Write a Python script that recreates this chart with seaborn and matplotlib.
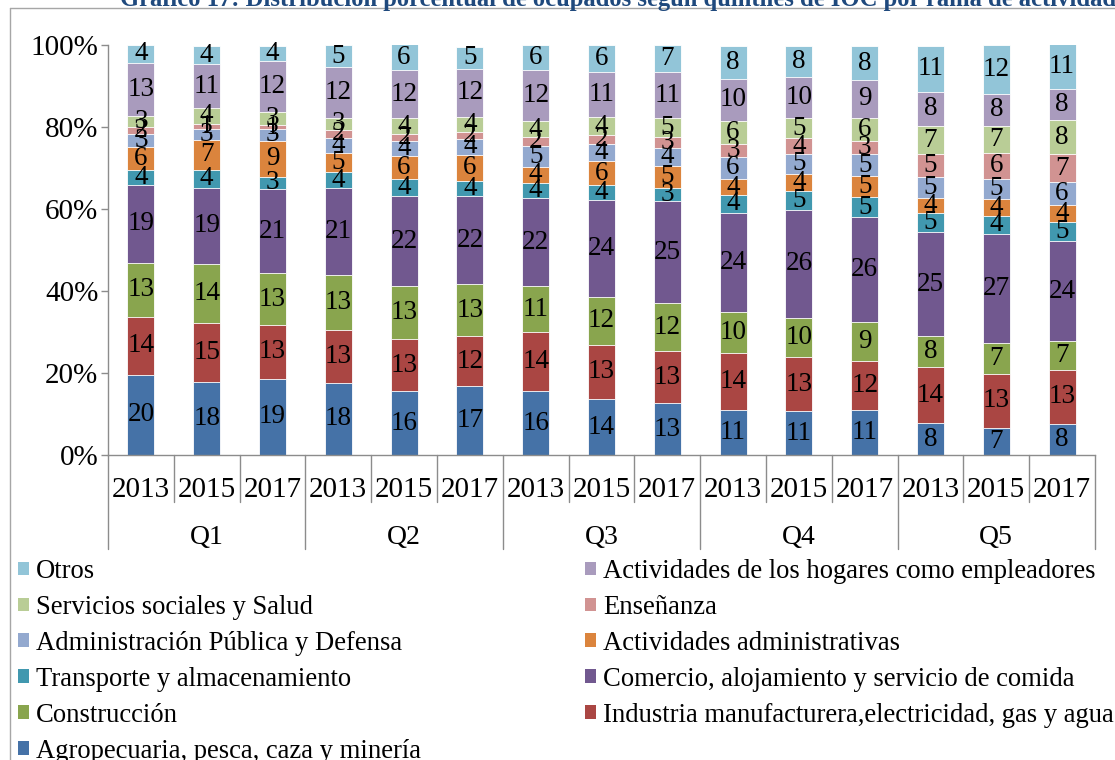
import pandas as pd
import matplotlib
matplotlib.use("Agg")
import matplotlib.pyplot as plt
import matplotlib.transforms as mtransforms
from matplotlib.patches import Patch
from matplotlib.lines import Line2D
from matplotlib.ticker import FuncFormatter
import seaborn as sns

# Data (percent of employed people by branch, per quintile and year)
quintiles = ["Q1", "Q2", "Q3", "Q4", "Q5"]
years = ["2013", "2015", "2017"]

agro = [19.6, 17.7, 18.6, 17.6, 15.6, 16.8, 15.6, 13.6, 12.6, 11.0, 10.7, 11.0, 7.7, 6.6, 7.6]
industria = [14.1, 14.6, 13.1, 12.9, 12.6, 12.2, 14.4, 13.3, 12.7, 13.9, 13.2, 12.0, 13.7, 13.2, 13.1]
construccion = [13.1, 14.3, 12.6, 13.4, 12.9, 12.6, 11.1, 11.7, 11.8, 10.0, 9.6, 9.4, 7.6, 7.4, 7.1]
comercio = [19.1, 18.6, 20.6, 21.2, 22.1, 21.6, 21.6, 23.6, 24.8, 24.2, 26.3, 25.6, 25.3, 26.7, 24.4]
transporte = [3.6, 4.4, 2.9, 3.9, 4.1, 3.6, 3.6, 3.6, 3.3, 4.3, 4.6, 4.9, 4.7, 4.4, 4.6]
act_admin = [5.6, 7.2, 8.8, 4.6, 5.6, 6.4, 4.0, 5.9, 5.4, 3.8, 4.1, 5.1, 3.6, 4.1, 4.1]
adm_publica = [3.2, 2.6, 2.9, 3.8, 3.8, 3.9, 5.1, 4.1, 4.4, 5.6, 5.0, 5.3, 5.3, 5.0, 5.6]
ensenanza = [1.6, 1.4, 0.9, 1.9, 1.6, 1.6, 2.2, 2.2, 2.6, 3.1, 3.7, 3.2, 5.4, 6.2, 6.8]
servicios = [2.9, 3.8, 3.3, 3.0, 3.8, 3.7, 3.8, 4.4, 4.7, 5.6, 5.0, 5.8, 7.0, 6.7, 8.3]
hogares = [12.9, 10.7, 12.3, 12.3, 11.8, 11.8, 12.4, 11.1, 11.0, 10.3, 9.9, 9.1, 8.3, 7.8, 7.6]
otros = [4.4, 4.4, 3.8, 5.3, 6.3, 5.4, 6.1, 6.4, 6.7, 8.0, 7.7, 8.4, 11.2, 11.8, 11.0]

# bottom to top
series_names = [
    "Agropecuaria, pesca, caza y minería",
    "Industria manufacturera,electricidad, gas y agua",
    "Construcción",
    "Comercio, alojamiento y servicio de comida",
    "Transporte y almacenamiento",
    "Actividades administrativas",
    "Administración Pública y Defensa",
    "Enseñanza",
    "Servicios sociales y Salud",
    "Actividades de los hogares como empleadores",
    "Otros",
]
series_values = [agro, industria, construccion, comercio, transporte, act_admin,
                 adm_publica, ensenanza, servicios, hogares, otros]
colors = ["#4572A7", "#AA4643", "#89A54E", "#71588F", "#4198AF", "#DB843D",
          "#93A9CF", "#D19392", "#B9CD96", "#A99BBD", "#92C5D8"]

title = "Gráfico 17: Distribución porcentual de ocupados según quintiles de IOC por rama de actividad"

cats = [f"{q} {y}" for q in quintiles for y in years]
rows = []
for name, vals in zip(series_names, series_values):
    for cat, v in zip(cats, vals):
        rows.append({"cat": cat, "serie": name, "valor": v})
df = pd.DataFrame(rows)
df["acum"] = df.groupby("cat")["valor"].cumsum()

sns.set_theme(style="white")
plt.rcParams["font.family"] = ["Liberation Serif", "DejaVu Serif"]
plt.rcParams["text.color"] = "black"

W, H = 1115, 760
fig, ax = plt.subplots(figsize=(W / 100, H / 100), dpi=100)
fig.subplots_adjust(left=108 / W, right=1095 / W, top=1 - 45 / H, bottom=1 - 455 / H)

gray = "#8C8C8C"
fs = 19.5
fs_axis = 21
fs_leg = 19.2

# stacked bars: draw cumulative totals from the top series down
for name, color in reversed(list(zip(series_names, colors))):
    sub = df[df["serie"] == name]
    sns.barplot(data=sub, x="cat", y="acum", order=cats, color=color, saturation=1,
                width=0.41, errorbar=None, edgecolor="white", linewidth=0.6, ax=ax)

for _, r in df.iterrows():
    x = cats.index(r["cat"])
    ax.text(x, r["acum"] - r["valor"] / 2, f"{r['valor']:.0f}", ha="center", va="center",
            fontsize=fs, color="black")

ax.set_xlim(-0.5, len(cats) - 0.5)
ax.set_ylim(0, 100)
ax.set_yticks(range(0, 101, 20))
ax.yaxis.set_major_formatter(FuncFormatter(lambda v, p: f"{v:.0f}%"))
ax.set_xticks(range(len(cats)), labels=years * len(quintiles))
ax.set_xlabel("")
ax.set_ylabel("")
ax.tick_params(axis="x", length=0, pad=16, labelsize=fs_axis, colors="black")
ax.tick_params(axis="y", length=5, width=1, direction="out", color=gray, labelsize=fs_axis,
               labelcolor="black", pad=2, left=True)
for side in ["top", "right"]:
    ax.spines[side].set_visible(False)
for side in ["left", "bottom"]:
    ax.spines[side].set_color(gray)
    ax.spines[side].set_linewidth(1)

# category separators and quintile labels
trans = mtransforms.blended_transform_factory(ax.transData, ax.transAxes)
for i in range(len(cats) + 1):
    depth = -0.229 if i % 3 == 0 else -0.1146
    ax.plot([i - 0.5, i - 0.5], [0, depth], transform=trans, color=gray, lw=1, clip_on=False)
for k, q in enumerate(quintiles):
    ax.text(3 * k + 1, -0.202, q, transform=trans, ha="center", va="center", fontsize=20,
            color="black")

# legend in two columns, read row by row from the top series
order = list(range(len(series_names)))[::-1]
handles = [Patch(facecolor=colors[i], edgecolor="none") for i in order]
labels = [series_names[i] for i in order]
leg_kw = dict(frameon=False, fontsize=fs_leg, handlelength=0.42, handleheight=0.42,
              handletextpad=0.25, labelspacing=0.41, borderpad=0, borderaxespad=0,
              labelcolor="black")
fig.legend(handles[0::2], labels[0::2], loc="upper left",
           bbox_to_anchor=(18 / W, 1 - 559 / H), **leg_kw)
fig.legend(handles[1::2], labels[1::2], loc="upper left",
           bbox_to_anchor=(585 / W, 1 - 559 / H), **leg_kw)

fig.text(120 / W, 1 - 6 / H, title, fontsize=17.7, fontweight="bold", color="#1F497D",
         ha="left", va="baseline")

# chart frame (only top and left edges fall inside the picture)
fig.add_artist(Line2D([10 / W, 10 / W], [0, 1 - 8 / H], transform=fig.transFigure, color="#A6A6A6", lw=1))
fig.add_artist(Line2D([10 / W, 1], [1 - 8 / H, 1 - 8 / H], transform=fig.transFigure, color="#A6A6A6", lw=1))

fig.savefig("out.png", dpi=100, facecolor="white")
